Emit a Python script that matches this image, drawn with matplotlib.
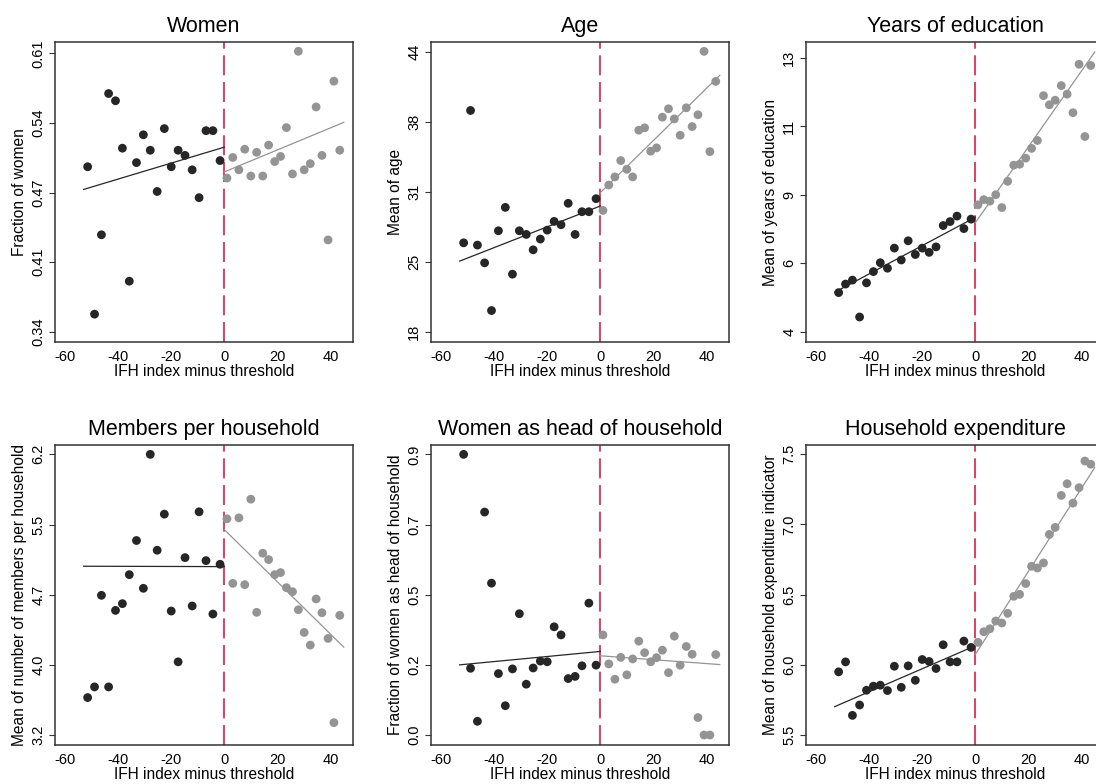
import matplotlib
matplotlib.use("Agg")
import matplotlib.pyplot as plt
import numpy as np

plt.rcParams['font.family'] = ['Liberation Sans', 'DejaVu Sans']

# bin centres (IFH index minus threshold)
x_left = [-51.5, -48.9, -46.3, -43.6, -41.0, -38.4, -35.8, -33.1, -30.5, -27.9,
          -25.3, -22.6, -20.0, -17.4, -14.8, -12.1, -9.5, -6.9, -4.3, -1.6]
x_right = [1.0, 3.2, 5.5, 7.7, 10.0, 12.2, 14.5, 16.7, 19.0, 21.2,
           23.4, 25.7, 27.9, 30.1, 32.4, 34.6, 36.8, 39.1, 41.3, 43.5]
fit_x_left = [-53, 0]
fit_x_right = [0, 45]

# Women
women_left = [0.500, 0.357, 0.434, 0.571, 0.564, 0.518, 0.389, 0.504, 0.531, 0.516,
              0.476, 0.537, 0.500, 0.516, 0.511, 0.497, 0.470, 0.535, 0.535, 0.506]
women_right = [0.489, 0.509, 0.497, 0.517, 0.491, 0.514, 0.491, 0.521, 0.505, 0.510,
               0.538, 0.493, 0.612, 0.497, 0.503, 0.558, 0.511, 0.429, 0.583, 0.516]
women_fit_left = [0.478, 0.519]
women_fit_right = [0.495, 0.543]

# Age
age_left = [26.28, 38.57, 26.07, 24.42, 19.99, 27.40, 29.57, 23.37, 27.40, 27.06,
            25.63, 26.63, 27.46, 28.27, 27.96, 29.95, 27.06, 29.17, 29.17, 30.38]
age_right = [29.29, 31.65, 32.40, 33.92, 33.11, 32.40, 36.74, 36.96, 34.79, 35.10,
             37.95, 38.73, 37.79, 36.27, 38.82, 37.08, 38.17, 44.06, 34.75, 41.27]
age_fit_left = [24.58, 29.70]
age_fit_right = [30.94, 41.83]

# Years of education
educ_left = [5.29, 5.57, 5.70, 4.49, 5.61, 5.98, 6.27, 6.09, 6.75, 6.36,
             6.99, 6.54, 6.75, 6.61, 6.79, 7.49, 7.62, 7.80, 7.39, 7.70]
educ_right = [8.17, 8.34, 8.29, 8.50, 8.08, 8.94, 9.47, 9.50, 9.70, 10.02,
              10.28, 11.75, 11.45, 11.60, 12.08, 11.80, 11.19, 12.78, 10.41, 12.74]
educ_fit_left = [5.30, 7.76]
educ_fit_right = [7.58, 13.18]

# Members per household
members_left = [3.600, 3.714, 4.693, 3.714, 4.532, 4.604, 4.914, 5.279, 4.768, 6.200,
                5.175, 5.561, 4.525, 3.982, 5.096, 4.579, 5.586, 5.064, 4.493, 5.025]
members_right = [5.511, 4.821, 5.521, 4.807, 5.721, 4.511, 5.143, 5.075, 4.914, 4.936,
                 4.775, 4.732, 4.539, 4.296, 4.161, 4.654, 4.507, 4.232, 3.332, 4.479]
members_fit_left = [5.004, 5.000]
members_fit_right = [5.396, 4.139]

# Women as head of household
head_left = [0.900, 0.214, 0.044, 0.715, 0.487, 0.197, 0.094, 0.212, 0.389, 0.163,
             0.215, 0.237, 0.235, 0.347, 0.321, 0.181, 0.188, 0.222, 0.423, 0.224]
head_right = [0.321, 0.228, 0.179, 0.249, 0.193, 0.244, 0.301, 0.264, 0.235, 0.248,
              0.272, 0.200, 0.317, 0.224, 0.284, 0.259, 0.056, 0.000, 0.000, 0.258]
head_fit_left = [0.225, 0.268]
head_fit_right = [0.254, 0.226]

# Household expenditure
exp_left = [5.950, 6.021, 5.640, 5.714, 5.819, 5.848, 5.855, 5.817, 5.990, 5.840,
            5.993, 5.890, 6.038, 6.024, 5.974, 6.143, 6.021, 6.021, 6.169, 6.124]
exp_right = [6.160, 6.236, 6.257, 6.312, 6.298, 6.367, 6.488, 6.502, 6.579, 6.702,
             6.690, 6.726, 6.929, 6.979, 7.207, 7.290, 7.152, 7.262, 7.452, 7.429]
exp_fit_left = [5.702, 6.136]
exp_fit_right = [6.074, 7.405]

titles = ['Women', 'Age', 'Years of education',
          'Members per household', 'Women as head of household', 'Household expenditure']
ylabels = ['Fraction of women', 'Mean of age', 'Mean of years of education',
           'Mean of number of members per household', 'Fraction of women as head of household',
           'Mean of household expenditure indicator']
yticks = [[0.34, 0.4075, 0.475, 0.5425, 0.61],
          [18, 24.5, 31, 37.5, 44],
          [4, 6.25, 8.5, 10.75, 13],
          [3.2, 3.95, 4.7, 5.45, 6.2],
          [0.0, 0.225, 0.45, 0.675, 0.9],
          [5.5, 6.0, 6.5, 7.0, 7.5]]
yticklabels = [['0.34', '0.41', '0.47', '0.54', '0.61'],
               ['18', '25', '31', '38', '44'],
               ['4', '6', '9', '11', '13'],
               ['3.2', '4.0', '4.7', '5.5', '6.2'],
               ['0.0', '0.2', '0.5', '0.7', '0.9'],
               ['5.5', '6.0', '6.5', '7.0', '7.5']]
ylims = [(0.330, 0.621), (17.07, 44.93), (3.67, 13.51),
         (3.093, 6.30), (-0.032, 0.930), (5.429, 7.566)]

series = [(women_left, women_right, women_fit_left, women_fit_right),
          (age_left, age_right, age_fit_left, age_fit_right),
          (educ_left, educ_right, educ_fit_left, educ_fit_right),
          (members_left, members_right, members_fit_left, members_fit_right),
          (head_left, head_right, head_fit_left, head_fit_right),
          (exp_left, exp_right, exp_fit_left, exp_fit_right)]

W, H = 1096, 784
fig = plt.figure(figsize=(W / 100, H / 100), dpi=100)
fig.patch.set_facecolor('white')

lefts = [55, 431, 806]
tops = [42, 445]
aw, ah = 298, 300

dark = '#262626'
grey = '#949494'
red = '#d41f4f'

for i in range(6):
    r, c = divmod(i, 3)
    ax = fig.add_axes([lefts[c] / W, (H - tops[r] - ah) / H, aw / W, ah / H])
    yl, yr, fl, fr = series[i]
    ax.axvline(0, color=red, lw=1.2, dashes=(12, 4), zorder=1)
    ax.plot(fit_x_left, fl, color=dark, lw=0.9, zorder=2)
    ax.plot(fit_x_right, fr, color=grey, lw=0.9, zorder=2)
    ax.scatter(x_left, yl, s=40, color=dark, edgecolors='none', zorder=3)
    ax.scatter(x_right, yr, s=40, color=grey, edgecolors='none', zorder=3)

    ax.set_xlim(-63.8, 48.5)
    ax.set_ylim(*ylims[i])
    ax.set_xticks([-60, -40, -20, 0, 20, 40])
    ax.set_xticklabels(['-60', '-40', '-20', '0', '20', '40'])
    ax.set_yticks(yticks[i])
    ax.set_yticklabels(yticklabels[i], rotation=90, va='center')
    ax.tick_params(axis='x', length=0, pad=6, labelsize=10.5)
    ax.tick_params(axis='y', length=4, width=0.8, pad=3, labelsize=10.5, color='#333333')
    for sp in ax.spines.values():
        sp.set_color('#333333')
        sp.set_linewidth(1.1)
    ax.set_title(titles[i], fontsize=15.5, pad=7)
    ax.set_xlabel('IFH index minus threshold', fontsize=11.2, labelpad=0)
    ax.set_ylabel(ylabels[i], fontsize=11.2, labelpad=3)

fig.savefig('out.png', dpi=100)
